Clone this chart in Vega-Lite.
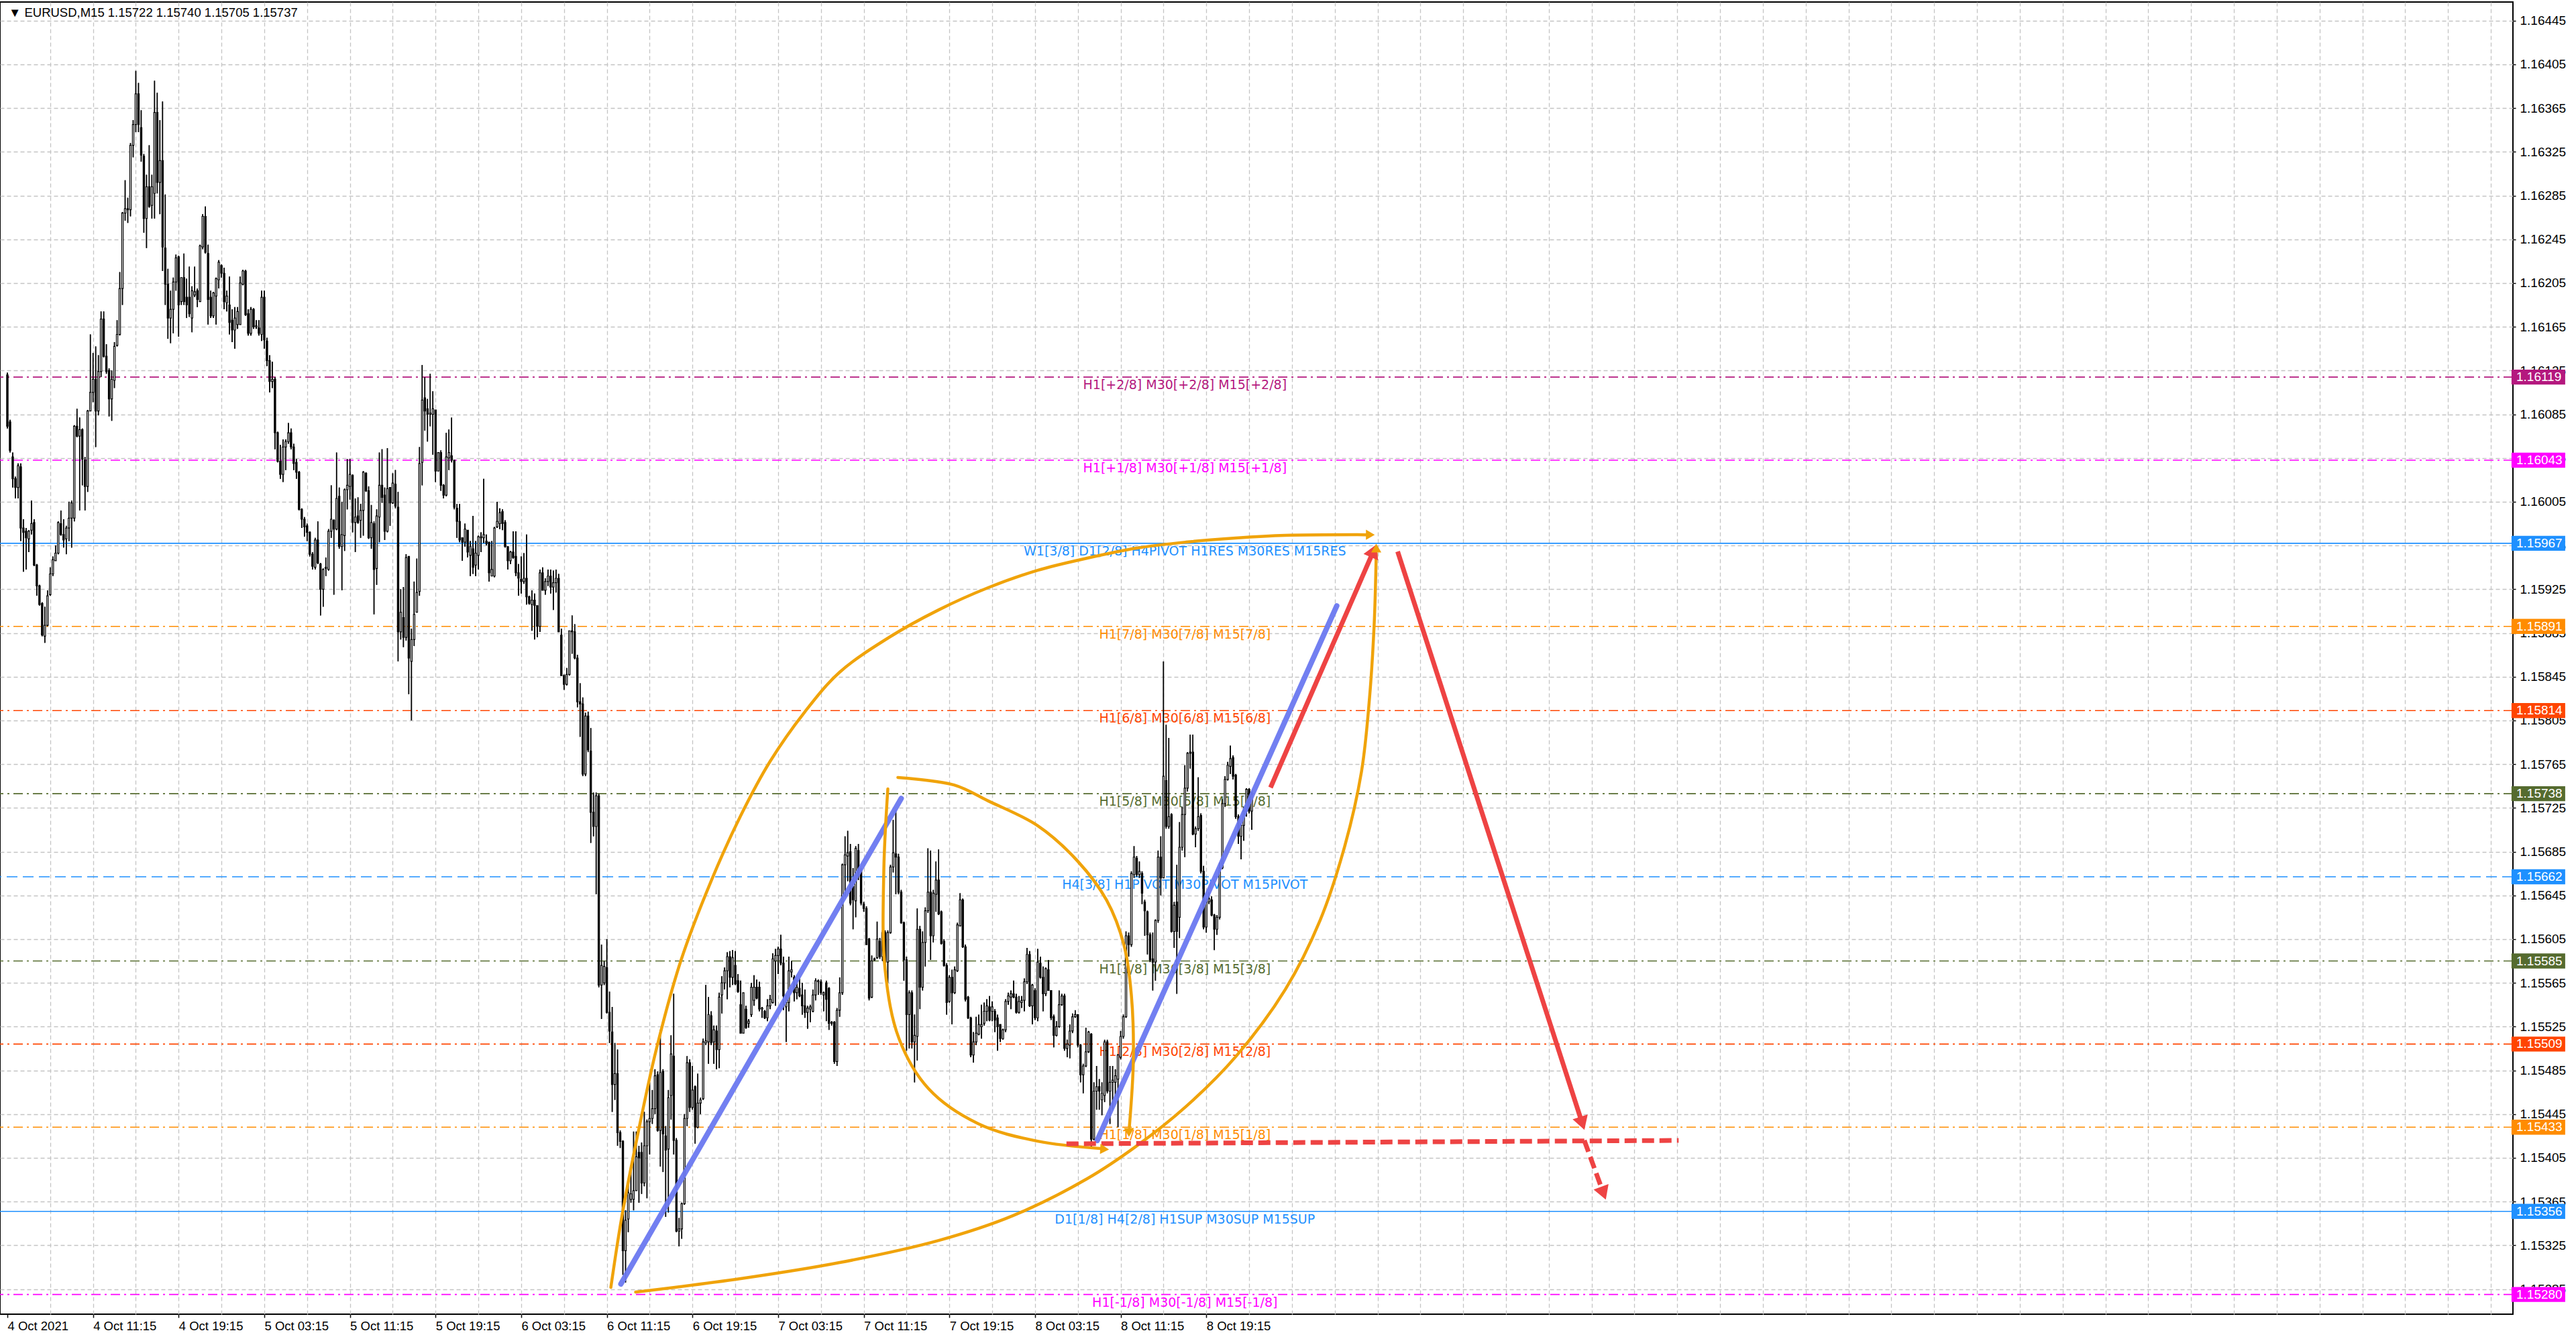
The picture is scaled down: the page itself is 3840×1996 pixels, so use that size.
{
"$schema": "https://vega.github.io/schema/vega-lite/v6.json",
"width": 3746, "height": 1956,
"autosize": "none",
"padding": {"left": 0, "top": 3, "right": 94, "bottom": 37},
"background": "white",
"config": {"view": {"stroke": "#000000", "strokeWidth": 2}},
"datasets": {
"candles": [
{"i":0,"o":1.16121,"h":1.16123,"l":1.16072,"c":1.16074},
{"i":1,"o":1.16078,"h":1.16080,"l":1.16050,"c":1.16052},
{"i":2,"o":1.16046,"h":1.16050,"l":1.16018,"c":1.16026},
{"i":3,"o":1.16026,"h":1.16028,"l":1.16008,"c":1.16018},
{"i":4,"o":1.16018,"h":1.16040,"l":1.16008,"c":1.16038},
{"i":5,"o":1.16037,"h":1.16040,"l":1.15969,"c":1.15981},
{"i":6,"o":1.15981,"h":1.15989,"l":1.15941,"c":1.15977},
{"i":7,"o":1.15978,"h":1.15981,"l":1.15943,"c":1.15972},
{"i":8,"o":1.15971,"h":1.15979,"l":1.15959,"c":1.15978},
{"i":9,"o":1.15979,"h":1.16006,"l":1.15975,"c":1.15985},
{"i":10,"o":1.15986,"h":1.15989,"l":1.15946,"c":1.15947},
{"i":11,"o":1.15947,"h":1.15948,"l":1.15919,"c":1.15928},
{"i":12,"o":1.15928,"h":1.15929,"l":1.15910,"c":1.15911},
{"i":13,"o":1.15912,"h":1.15913,"l":1.15882,"c":1.15883},
{"i":14,"o":1.15882,"h":1.15909,"l":1.15876,"c":1.15892},
{"i":15,"o":1.15892,"h":1.15924,"l":1.15891,"c":1.15919},
{"i":16,"o":1.15920,"h":1.15945,"l":1.15919,"c":1.15939},
{"i":17,"o":1.15939,"h":1.15955,"l":1.15937,"c":1.15952},
{"i":18,"o":1.15951,"h":1.15965,"l":1.15951,"c":1.15958},
{"i":19,"o":1.15958,"h":1.15987,"l":1.15957,"c":1.15986},
{"i":20,"o":1.15985,"h":1.15997,"l":1.15974,"c":1.15975},
{"i":21,"o":1.15975,"h":1.15989,"l":1.15963,"c":1.15970},
{"i":22,"o":1.15971,"h":1.15983,"l":1.15957,"c":1.15981},
{"i":23,"o":1.15981,"h":1.16005,"l":1.15969,"c":1.15990},
{"i":24,"o":1.15990,"h":1.16006,"l":1.15963,"c":1.16004},
{"i":25,"o":1.15990,"h":1.16075,"l":1.15987,"c":1.16074},
{"i":26,"o":1.16074,"h":1.16090,"l":1.16064,"c":1.16065},
{"i":27,"o":1.16065,"h":1.16082,"l":1.15997,"c":1.16071},
{"i":28,"o":1.16071,"h":1.16072,"l":1.16020,"c":1.16044},
{"i":29,"o":1.16043,"h":1.16046,"l":1.15997,"c":1.16019},
{"i":30,"o":1.16019,"h":1.16089,"l":1.16014,"c":1.16088},
{"i":31,"o":1.16088,"h":1.16158,"l":1.16088,"c":1.16105},
{"i":32,"o":1.16105,"h":1.16141,"l":1.16096,"c":1.16117},
{"i":33,"o":1.16117,"h":1.16147,"l":1.16055,"c":1.16088},
{"i":34,"o":1.16088,"h":1.16139,"l":1.16084,"c":1.16124},
{"i":35,"o":1.16124,"h":1.16179,"l":1.16119,"c":1.16172},
{"i":36,"o":1.16172,"h":1.16179,"l":1.16137,"c":1.16138},
{"i":37,"o":1.16138,"h":1.16149,"l":1.16122,"c":1.16124},
{"i":38,"o":1.16125,"h":1.16127,"l":1.16083,"c":1.16099},
{"i":39,"o":1.16099,"h":1.16125,"l":1.16079,"c":1.16117},
{"i":40,"o":1.16116,"h":1.16151,"l":1.16109,"c":1.16147},
{"i":41,"o":1.16148,"h":1.16171,"l":1.16147,"c":1.16158},
{"i":42,"o":1.16158,"h":1.16215,"l":1.16157,"c":1.16200},
{"i":43,"o":1.16200,"h":1.16270,"l":1.16185,"c":1.16269},
{"i":44,"o":1.16269,"h":1.16299,"l":1.16262,"c":1.16273},
{"i":45,"o":1.16273,"h":1.16283,"l":1.16260,"c":1.16272},
{"i":46,"o":1.16272,"h":1.16333,"l":1.16266,"c":1.16331},
{"i":47,"o":1.16331,"h":1.16354,"l":1.16320,"c":1.16350},
{"i":48,"o":1.16350,"h":1.16399,"l":1.16343,"c":1.16378},
{"i":49,"o":1.16378,"h":1.16388,"l":1.16343,"c":1.16350},
{"i":50,"o":1.16347,"h":1.16363,"l":1.16316,"c":1.16322},
{"i":51,"o":1.16321,"h":1.16323,"l":1.16251,"c":1.16264},
{"i":52,"o":1.16264,"h":1.16304,"l":1.16237,"c":1.16293},
{"i":53,"o":1.16293,"h":1.16331,"l":1.16274,"c":1.16275},
{"i":54,"o":1.16276,"h":1.16304,"l":1.16264,"c":1.16293},
{"i":55,"o":1.16287,"h":1.16390,"l":1.16264,"c":1.16361},
{"i":56,"o":1.16361,"h":1.16379,"l":1.16287,"c":1.16297},
{"i":57,"o":1.16297,"h":1.16354,"l":1.16268,"c":1.16317},
{"i":58,"o":1.16317,"h":1.16371,"l":1.16216,"c":1.16238},
{"i":59,"o":1.16237,"h":1.16286,"l":1.16185,"c":1.16204},
{"i":60,"o":1.16204,"h":1.16218,"l":1.16154,"c":1.16173},
{"i":61,"o":1.16173,"h":1.16198,"l":1.16150,"c":1.16181},
{"i":62,"o":1.16181,"h":1.16210,"l":1.16159,"c":1.16206},
{"i":63,"o":1.16206,"h":1.16231,"l":1.16198,"c":1.16228},
{"i":64,"o":1.16229,"h":1.16230,"l":1.16156,"c":1.16185},
{"i":65,"o":1.16188,"h":1.16210,"l":1.16185,"c":1.16210},
{"i":66,"o":1.16210,"h":1.16232,"l":1.16185,"c":1.16188},
{"i":67,"o":1.16192,"h":1.16209,"l":1.16173,"c":1.16185},
{"i":68,"o":1.16192,"h":1.16220,"l":1.16174,"c":1.16177},
{"i":69,"o":1.16173,"h":1.16202,"l":1.16160,"c":1.16198},
{"i":70,"o":1.16194,"h":1.16220,"l":1.16192,"c":1.16197},
{"i":71,"o":1.16198,"h":1.16200,"l":1.16183,"c":1.16190},
{"i":72,"o":1.16188,"h":1.16240,"l":1.16188,"c":1.16239},
{"i":73,"o":1.16238,"h":1.16268,"l":1.16236,"c":1.16266},
{"i":74,"o":1.16266,"h":1.16275,"l":1.16232,"c":1.16233},
{"i":75,"o":1.16232,"h":1.16240,"l":1.16167,"c":1.16190},
{"i":76,"o":1.16192,"h":1.16198,"l":1.16173,"c":1.16175},
{"i":77,"o":1.16175,"h":1.16197,"l":1.16173,"c":1.16196},
{"i":78,"o":1.16193,"h":1.16210,"l":1.16167,"c":1.16209},
{"i":79,"o":1.16208,"h":1.16226,"l":1.16200,"c":1.16224},
{"i":80,"o":1.16221,"h":1.16222,"l":1.16210,"c":1.16214},
{"i":81,"o":1.16214,"h":1.16219,"l":1.16181,"c":1.16188},
{"i":82,"o":1.16187,"h":1.16198,"l":1.16179,"c":1.16193},
{"i":83,"o":1.16185,"h":1.16211,"l":1.16158,"c":1.16169},
{"i":84,"o":1.16171,"h":1.16181,"l":1.16151,"c":1.16162},
{"i":85,"o":1.16162,"h":1.16183,"l":1.16145,"c":1.16173},
{"i":86,"o":1.16167,"h":1.16183,"l":1.16163,"c":1.16179},
{"i":87,"o":1.16167,"h":1.16211,"l":1.16167,"c":1.16205},
{"i":88,"o":1.16204,"h":1.16217,"l":1.16203,"c":1.16216},
{"i":89,"o":1.16216,"h":1.16217,"l":1.16175,"c":1.16176},
{"i":90,"o":1.16177,"h":1.16181,"l":1.16157,"c":1.16159},
{"i":91,"o":1.16159,"h":1.16183,"l":1.16157,"c":1.16181},
{"i":92,"o":1.16181,"h":1.16182,"l":1.16163,"c":1.16165},
{"i":93,"o":1.16165,"h":1.16171,"l":1.16163,"c":1.16166},
{"i":94,"o":1.16164,"h":1.16171,"l":1.16157,"c":1.16159},
{"i":95,"o":1.16158,"h":1.16198,"l":1.16152,"c":1.16192},
{"i":96,"o":1.16192,"h":1.16198,"l":1.16145,"c":1.16153},
{"i":97,"o":1.16152,"h":1.16155,"l":1.16129,"c":1.16134},
{"i":98,"o":1.16134,"h":1.16139,"l":1.16105,"c":1.16115},
{"i":99,"o":1.16115,"h":1.16133,"l":1.16109,"c":1.16117},
{"i":100,"o":1.16117,"h":1.16119,"l":1.16053,"c":1.16068},
{"i":101,"o":1.16068,"h":1.16069,"l":1.16041,"c":1.16042},
{"i":102,"o":1.16042,"h":1.16057,"l":1.16026,"c":1.16030},
{"i":103,"o":1.16030,"h":1.16062,"l":1.16023,"c":1.16055},
{"i":104,"o":1.16055,"h":1.16062,"l":1.16034,"c":1.16060},
{"i":105,"o":1.16060,"h":1.16077,"l":1.16058,"c":1.16068},
{"i":106,"o":1.16068,"h":1.16072,"l":1.16053,"c":1.16055},
{"i":107,"o":1.16055,"h":1.16058,"l":1.16034,"c":1.16040},
{"i":108,"o":1.16041,"h":1.16044,"l":1.16026,"c":1.16032},
{"i":109,"o":1.16032,"h":1.16033,"l":1.15997,"c":1.15998},
{"i":110,"o":1.15998,"h":1.15999,"l":1.15981,"c":1.15989},
{"i":111,"o":1.15989,"h":1.15991,"l":1.15973,"c":1.15982},
{"i":112,"o":1.15983,"h":1.15985,"l":1.15969,"c":1.15977},
{"i":113,"o":1.15977,"h":1.15978,"l":1.15955,"c":1.15957},
{"i":114,"o":1.15957,"h":1.15959,"l":1.15943,"c":1.15946},
{"i":115,"o":1.15945,"h":1.15972,"l":1.15943,"c":1.15970},
{"i":116,"o":1.15970,"h":1.15987,"l":1.15948,"c":1.15949},
{"i":117,"o":1.15948,"h":1.15949,"l":1.15901,"c":1.15925},
{"i":118,"o":1.15925,"h":1.15944,"l":1.15909,"c":1.15943},
{"i":119,"o":1.15944,"h":1.15954,"l":1.15937,"c":1.15945},
{"i":120,"o":1.15943,"h":1.15980,"l":1.15942,"c":1.15978},
{"i":121,"o":1.15978,"h":1.16020,"l":1.15972,"c":1.15989},
{"i":122,"o":1.15988,"h":1.15989,"l":1.15920,"c":1.15980},
{"i":123,"o":1.15980,"h":1.16050,"l":1.15979,"c":1.16008},
{"i":124,"o":1.16010,"h":1.16018,"l":1.15962,"c":1.15964},
{"i":125,"o":1.15964,"h":1.16005,"l":1.15924,"c":1.15975},
{"i":126,"o":1.15974,"h":1.16017,"l":1.15960,"c":1.16016},
{"i":127,"o":1.16016,"h":1.16044,"l":1.15998,"c":1.16020},
{"i":128,"o":1.16019,"h":1.16044,"l":1.16007,"c":1.16030},
{"i":129,"o":1.16029,"h":1.16030,"l":1.15977,"c":1.15986},
{"i":130,"o":1.15986,"h":1.16008,"l":1.15959,"c":1.15991},
{"i":131,"o":1.15992,"h":1.16009,"l":1.15985,"c":1.15986},
{"i":132,"o":1.15988,"h":1.16003,"l":1.15972,"c":1.15997},
{"i":133,"o":1.15997,"h":1.16033,"l":1.15974,"c":1.16032},
{"i":134,"o":1.16031,"h":1.16032,"l":1.16014,"c":1.16015},
{"i":135,"o":1.16015,"h":1.16019,"l":1.15971,"c":1.15972},
{"i":136,"o":1.15972,"h":1.16002,"l":1.15962,"c":1.15986},
{"i":137,"o":1.15985,"h":1.15987,"l":1.15902,"c":1.15943},
{"i":138,"o":1.15944,"h":1.15998,"l":1.15929,"c":1.15992},
{"i":139,"o":1.15991,"h":1.16050,"l":1.15968,"c":1.16020},
{"i":140,"o":1.16020,"h":1.16053,"l":1.16004,"c":1.16009},
{"i":141,"o":1.16011,"h":1.16018,"l":1.15970,"c":1.15978},
{"i":142,"o":1.15978,"h":1.16054,"l":1.15977,"c":1.16017},
{"i":143,"o":1.16018,"h":1.16018,"l":1.15983,"c":1.16004},
{"i":144,"o":1.16004,"h":1.16031,"l":1.16003,"c":1.16022},
{"i":145,"o":1.16021,"h":1.16034,"l":1.15999,"c":1.16001},
{"i":146,"o":1.16000,"h":1.16014,"l":1.15859,"c":1.15886},
{"i":147,"o":1.15886,"h":1.15925,"l":1.15879,"c":1.15904},
{"i":148,"o":1.15899,"h":1.15927,"l":1.15872,"c":1.15881},
{"i":149,"o":1.15881,"h":1.15957,"l":1.15878,"c":1.15954},
{"i":150,"o":1.15955,"h":1.15955,"l":1.15829,"c":1.15862},
{"i":151,"o":1.15859,"h":1.15889,"l":1.15805,"c":1.15879},
{"i":152,"o":1.15879,"h":1.15932,"l":1.15873,"c":1.15902},
{"i":153,"o":1.15904,"h":1.15953,"l":1.15904,"c":1.15922},
{"i":154,"o":1.15923,"h":1.16055,"l":1.15919,"c":1.16040},
{"i":155,"o":1.16041,"h":1.16130,"l":1.16020,"c":1.16098},
{"i":156,"o":1.16100,"h":1.16119,"l":1.16070,"c":1.16088},
{"i":157,"o":1.16090,"h":1.16099,"l":1.16060,"c":1.16085},
{"i":158,"o":1.16085,"h":1.16122,"l":1.16074,"c":1.16086},
{"i":159,"o":1.16085,"h":1.16106,"l":1.16048,"c":1.16090},
{"i":160,"o":1.16089,"h":1.16089,"l":1.16023,"c":1.16033},
{"i":161,"o":1.16033,"h":1.16050,"l":1.16033,"c":1.16050},
{"i":162,"o":1.16050,"h":1.16052,"l":1.16015,"c":1.16020},
{"i":163,"o":1.16020,"h":1.16021,"l":1.16008,"c":1.16011},
{"i":164,"o":1.16011,"h":1.16068,"l":1.16010,"c":1.16046},
{"i":165,"o":1.16045,"h":1.16071,"l":1.16034,"c":1.16050},
{"i":166,"o":1.16047,"h":1.16082,"l":1.16041,"c":1.16043},
{"i":167,"o":1.16043,"h":1.16043,"l":1.15998,"c":1.16000},
{"i":168,"o":1.15999,"h":1.16003,"l":1.15972,"c":1.15987},
{"i":169,"o":1.15987,"h":1.16003,"l":1.15968,"c":1.15970},
{"i":170,"o":1.15972,"h":1.15972,"l":1.15951,"c":1.15968},
{"i":171,"o":1.15968,"h":1.15985,"l":1.15964,"c":1.15980},
{"i":172,"o":1.15979,"h":1.15979,"l":1.15954,"c":1.15959},
{"i":173,"o":1.15956,"h":1.15969,"l":1.15937,"c":1.15964},
{"i":174,"o":1.15962,"h":1.15992,"l":1.15939,"c":1.15945},
{"i":175,"o":1.15947,"h":1.15969,"l":1.15937,"c":1.15958},
{"i":176,"o":1.15956,"h":1.15974,"l":1.15943,"c":1.15973},
{"i":177,"o":1.15972,"h":1.15977,"l":1.15959,"c":1.15973},
{"i":178,"o":1.15972,"h":1.16026,"l":1.15967,"c":1.15975},
{"i":179,"o":1.15969,"h":1.15975,"l":1.15965,"c":1.15967},
{"i":180,"o":1.15968,"h":1.15968,"l":1.15932,"c":1.15940},
{"i":181,"o":1.15937,"h":1.15969,"l":1.15937,"c":1.15943},
{"i":182,"o":1.15937,"h":1.15982,"l":1.15936,"c":1.15981},
{"i":183,"o":1.15982,"h":1.16005,"l":1.15981,"c":1.15987},
{"i":184,"o":1.15985,"h":1.15999,"l":1.15980,"c":1.15995},
{"i":185,"o":1.15996,"h":1.15998,"l":1.15979,"c":1.15985},
{"i":186,"o":1.15986,"h":1.15988,"l":1.15963,"c":1.15964},
{"i":187,"o":1.15964,"h":1.15964,"l":1.15943,"c":1.15951},
{"i":188,"o":1.15951,"h":1.15960,"l":1.15948,"c":1.15959},
{"i":189,"o":1.15959,"h":1.15978,"l":1.15953,"c":1.15954},
{"i":190,"o":1.15955,"h":1.15978,"l":1.15937,"c":1.15940},
{"i":191,"o":1.15940,"h":1.15948,"l":1.15919,"c":1.15935},
{"i":192,"o":1.15934,"h":1.15955,"l":1.15921,"c":1.15932},
{"i":193,"o":1.15932,"h":1.15958,"l":1.15930,"c":1.15935},
{"i":194,"o":1.15935,"h":1.15975,"l":1.15911,"c":1.15918},
{"i":195,"o":1.15918,"h":1.15919,"l":1.15911,"c":1.15912},
{"i":196,"o":1.15911,"h":1.15924,"l":1.15887,"c":1.15915},
{"i":197,"o":1.15915,"h":1.15921,"l":1.15879,"c":1.15910},
{"i":198,"o":1.15910,"h":1.15910,"l":1.15881,"c":1.15891},
{"i":199,"o":1.15891,"h":1.15943,"l":1.15886,"c":1.15940},
{"i":200,"o":1.15940,"h":1.15945,"l":1.15924,"c":1.15924},
{"i":201,"o":1.15924,"h":1.15935,"l":1.15920,"c":1.15932},
{"i":202,"o":1.15932,"h":1.15943,"l":1.15928,"c":1.15937},
{"i":203,"o":1.15937,"h":1.15943,"l":1.15921,"c":1.15927},
{"i":204,"o":1.15927,"h":1.15942,"l":1.15906,"c":1.15931},
{"i":205,"o":1.15931,"h":1.15943,"l":1.15922,"c":1.15935},
{"i":206,"o":1.15935,"h":1.15939,"l":1.15886,"c":1.15886},
{"i":207,"o":1.15883,"h":1.15889,"l":1.15846,"c":1.15846},
{"i":208,"o":1.15846,"h":1.15847,"l":1.15833,"c":1.15838},
{"i":209,"o":1.15838,"h":1.15853,"l":1.15837,"c":1.15847},
{"i":210,"o":1.15847,"h":1.15887,"l":1.15846,"c":1.15887},
{"i":211,"o":1.15887,"h":1.15901,"l":1.15866,"c":1.15886},
{"i":212,"o":1.15886,"h":1.15893,"l":1.15861,"c":1.15862},
{"i":213,"o":1.15862,"h":1.15865,"l":1.15817,"c":1.15822},
{"i":214,"o":1.15822,"h":1.15839,"l":1.15790,"c":1.15820},
{"i":215,"o":1.15820,"h":1.15826,"l":1.15754,"c":1.15756},
{"i":216,"o":1.15756,"h":1.15812,"l":1.15754,"c":1.15809},
{"i":217,"o":1.15809,"h":1.15813,"l":1.15776,"c":1.15778},
{"i":218,"o":1.15777,"h":1.15798,"l":1.15693,"c":1.15721},
{"i":219,"o":1.15721,"h":1.15739,"l":1.15699,"c":1.15708},
{"i":220,"o":1.15708,"h":1.15739,"l":1.15646,"c":1.15736},
{"i":221,"o":1.15736,"h":1.15738,"l":1.15561,"c":1.15563},
{"i":222,"o":1.15563,"h":1.15600,"l":1.15532,"c":1.15581},
{"i":223,"o":1.15565,"h":1.15585,"l":1.15563,"c":1.15580},
{"i":224,"o":1.15579,"h":1.15605,"l":1.15537,"c":1.15538},
{"i":225,"o":1.15538,"h":1.15557,"l":1.15510,"c":1.15521},
{"i":226,"o":1.15520,"h":1.15543,"l":1.15447,"c":1.15472},
{"i":227,"o":1.15472,"h":1.15510,"l":1.15458,"c":1.15482},
{"i":228,"o":1.15482,"h":1.15504,"l":1.15416,"c":1.15428},
{"i":229,"o":1.15428,"h":1.15430,"l":1.15414,"c":1.15420},
{"i":230,"o":1.15420,"h":1.15421,"l":1.15298,"c":1.15320},
{"i":231,"o":1.15320,"h":1.15357,"l":1.15291,"c":1.15348},
{"i":232,"o":1.15349,"h":1.15382,"l":1.15337,"c":1.15373},
{"i":233,"o":1.15367,"h":1.15396,"l":1.15364,"c":1.15372},
{"i":234,"o":1.15367,"h":1.15429,"l":1.15357,"c":1.15375},
{"i":235,"o":1.15375,"h":1.15429,"l":1.15375,"c":1.15406},
{"i":236,"o":1.15410,"h":1.15416,"l":1.15364,"c":1.15405},
{"i":237,"o":1.15410,"h":1.15419,"l":1.15372,"c":1.15382},
{"i":238,"o":1.15382,"h":1.15447,"l":1.15379,"c":1.15416},
{"i":239,"o":1.15416,"h":1.15440,"l":1.15368,"c":1.15438},
{"i":240,"o":1.15438,"h":1.15474,"l":1.15408,"c":1.15441},
{"i":241,"o":1.15441,"h":1.15467,"l":1.15436,"c":1.15450},
{"i":242,"o":1.15450,"h":1.15486,"l":1.15445,"c":1.15480},
{"i":243,"o":1.15481,"h":1.15484,"l":1.15429,"c":1.15430},
{"i":244,"o":1.15430,"h":1.15522,"l":1.15397,"c":1.15483},
{"i":245,"o":1.15484,"h":1.15486,"l":1.15392,"c":1.15427},
{"i":246,"o":1.15425,"h":1.15434,"l":1.15351,"c":1.15412},
{"i":247,"o":1.15413,"h":1.15467,"l":1.15355,"c":1.15460},
{"i":248,"o":1.15462,"h":1.15517,"l":1.15440,"c":1.15500},
{"i":249,"o":1.15498,"h":1.15555,"l":1.15408,"c":1.15421},
{"i":250,"o":1.15421,"h":1.15423,"l":1.15337,"c":1.15338},
{"i":251,"o":1.15338,"h":1.15350,"l":1.15324,"c":1.15340},
{"i":252,"o":1.15340,"h":1.15364,"l":1.15331,"c":1.15363},
{"i":253,"o":1.15363,"h":1.15445,"l":1.15362,"c":1.15441},
{"i":254,"o":1.15441,"h":1.15498,"l":1.15434,"c":1.15492},
{"i":255,"o":1.15492,"h":1.15495,"l":1.15447,"c":1.15451},
{"i":256,"o":1.15451,"h":1.15489,"l":1.15449,"c":1.15467},
{"i":257,"o":1.15470,"h":1.15471,"l":1.15418,"c":1.15433},
{"i":258,"o":1.15433,"h":1.15482,"l":1.15432,"c":1.15455},
{"i":259,"o":1.15455,"h":1.15460,"l":1.15445,"c":1.15458},
{"i":260,"o":1.15459,"h":1.15514,"l":1.15458,"c":1.15511},
{"i":261,"o":1.15510,"h":1.15563,"l":1.15508,"c":1.15512},
{"i":262,"o":1.15511,"h":1.15552,"l":1.15491,"c":1.15536},
{"i":263,"o":1.15535,"h":1.15539,"l":1.15508,"c":1.15510},
{"i":264,"o":1.15511,"h":1.15526,"l":1.15491,"c":1.15522},
{"i":265,"o":1.15521,"h":1.15526,"l":1.15486,"c":1.15504},
{"i":266,"o":1.15504,"h":1.15556,"l":1.15487,"c":1.15552},
{"i":267,"o":1.15554,"h":1.15571,"l":1.15537,"c":1.15565},
{"i":268,"o":1.15565,"h":1.15579,"l":1.15559,"c":1.15576},
{"i":269,"o":1.15576,"h":1.15593,"l":1.15550,"c":1.15589},
{"i":270,"o":1.15589,"h":1.15594,"l":1.15561,"c":1.15570},
{"i":271,"o":1.15570,"h":1.15595,"l":1.15563,"c":1.15588},
{"i":272,"o":1.15581,"h":1.15594,"l":1.15563,"c":1.15564},
{"i":273,"o":1.15567,"h":1.15573,"l":1.15556,"c":1.15557},
{"i":274,"o":1.15545,"h":1.15567,"l":1.15519,"c":1.15519},
{"i":275,"o":1.15519,"h":1.15556,"l":1.15519,"c":1.15556},
{"i":276,"o":1.15541,"h":1.15544,"l":1.15523,"c":1.15524},
{"i":277,"o":1.15528,"h":1.15532,"l":1.15524,"c":1.15530},
{"i":278,"o":1.15536,"h":1.15565,"l":1.15534,"c":1.15561},
{"i":279,"o":1.15549,"h":1.15572,"l":1.15544,"c":1.15561},
{"i":280,"o":1.15561,"h":1.15568,"l":1.15550,"c":1.15551},
{"i":281,"o":1.15561,"h":1.15566,"l":1.15539,"c":1.15541},
{"i":282,"o":1.15541,"h":1.15543,"l":1.15533,"c":1.15542},
{"i":283,"o":1.15539,"h":1.15540,"l":1.15532,"c":1.15533},
{"i":284,"o":1.15533,"h":1.15550,"l":1.15530,"c":1.15544},
{"i":285,"o":1.15544,"h":1.15554,"l":1.15541,"c":1.15550},
{"i":286,"o":1.15547,"h":1.15592,"l":1.15546,"c":1.15587},
{"i":287,"o":1.15585,"h":1.15596,"l":1.15544,"c":1.15590},
{"i":288,"o":1.15590,"h":1.15598,"l":1.15573,"c":1.15596},
{"i":289,"o":1.15596,"h":1.15609,"l":1.15581,"c":1.15583},
{"i":290,"o":1.15583,"h":1.15589,"l":1.15540,"c":1.15553},
{"i":291,"o":1.15543,"h":1.15554,"l":1.15511,"c":1.15547},
{"i":292,"o":1.15547,"h":1.15589,"l":1.15539,"c":1.15576},
{"i":293,"o":1.15575,"h":1.15585,"l":1.15570,"c":1.15577},
{"i":294,"o":1.15570,"h":1.15572,"l":1.15548,"c":1.15556},
{"i":295,"o":1.15556,"h":1.15568,"l":1.15550,"c":1.15561},
{"i":296,"o":1.15560,"h":1.15569,"l":1.15552,"c":1.15553},
{"i":297,"o":1.15554,"h":1.15565,"l":1.15536,"c":1.15544},
{"i":298,"o":1.15544,"h":1.15559,"l":1.15533,"c":1.15538},
{"i":299,"o":1.15538,"h":1.15544,"l":1.15523,"c":1.15542},
{"i":300,"o":1.15541,"h":1.15545,"l":1.15529,"c":1.15543},
{"i":301,"o":1.15539,"h":1.15559,"l":1.15538,"c":1.15554},
{"i":302,"o":1.15554,"h":1.15569,"l":1.15549,"c":1.15567},
{"i":303,"o":1.15566,"h":1.15568,"l":1.15554,"c":1.15567},
{"i":304,"o":1.15566,"h":1.15568,"l":1.15554,"c":1.15556},
{"i":305,"o":1.15554,"h":1.15557,"l":1.15539,"c":1.15556},
{"i":306,"o":1.15565,"h":1.15567,"l":1.15530,"c":1.15550},
{"i":307,"o":1.15560,"h":1.15561,"l":1.15522,"c":1.15528},
{"i":308,"o":1.15529,"h":1.15530,"l":1.15526,"c":1.15528},
{"i":309,"o":1.15529,"h":1.15530,"l":1.15491,"c":1.15493},
{"i":310,"o":1.15493,"h":1.15542,"l":1.15489,"c":1.15540},
{"i":311,"o":1.15540,"h":1.15570,"l":1.15534,"c":1.15556},
{"i":312,"o":1.15556,"h":1.15674,"l":1.15554,"c":1.15673},
{"i":313,"o":1.15673,"h":1.15699,"l":1.15644,"c":1.15682},
{"i":314,"o":1.15681,"h":1.15704,"l":1.15658,"c":1.15684},
{"i":315,"o":1.15685,"h":1.15692,"l":1.15636,"c":1.15638},
{"i":316,"o":1.15653,"h":1.15670,"l":1.15614,"c":1.15641},
{"i":317,"o":1.15640,"h":1.15690,"l":1.15625,"c":1.15688},
{"i":318,"o":1.15686,"h":1.15692,"l":1.15659,"c":1.15662},
{"i":319,"o":1.15668,"h":1.15670,"l":1.15636,"c":1.15638},
{"i":320,"o":1.15637,"h":1.15639,"l":1.15630,"c":1.15633},
{"i":321,"o":1.15633,"h":1.15635,"l":1.15600,"c":1.15600},
{"i":322,"o":1.15605,"h":1.15606,"l":1.15549,"c":1.15551},
{"i":323,"o":1.15552,"h":1.15590,"l":1.15551,"c":1.15585},
{"i":324,"o":1.15586,"h":1.15588,"l":1.15585,"c":1.15587},
{"i":325,"o":1.15588,"h":1.15621,"l":1.15587,"c":1.15605},
{"i":326,"o":1.15603,"h":1.15606,"l":1.15587,"c":1.15589},
{"i":327,"o":1.15589,"h":1.15613,"l":1.15585,"c":1.15611},
{"i":328,"o":1.15611,"h":1.15613,"l":1.15583,"c":1.15584},
{"i":329,"o":1.15584,"h":1.15613,"l":1.15565,"c":1.15611},
{"i":330,"o":1.15611,"h":1.15673,"l":1.15610,"c":1.15671},
{"i":331,"o":1.15671,"h":1.15714,"l":1.15666,"c":1.15684},
{"i":332,"o":1.15683,"h":1.15723,"l":1.15646,"c":1.15680},
{"i":333,"o":1.15680,"h":1.15683,"l":1.15646,"c":1.15648},
{"i":334,"o":1.15648,"h":1.15650,"l":1.15619,"c":1.15620},
{"i":335,"o":1.15620,"h":1.15621,"l":1.15567,"c":1.15586},
{"i":336,"o":1.15586,"h":1.15589,"l":1.15503,"c":1.15536},
{"i":337,"o":1.15536,"h":1.15558,"l":1.15505,"c":1.15556},
{"i":338,"o":1.15556,"h":1.15558,"l":1.15505,"c":1.15511},
{"i":339,"o":1.15511,"h":1.15536,"l":1.15474,"c":1.15517},
{"i":340,"o":1.15516,"h":1.15633,"l":1.15494,"c":1.15614},
{"i":341,"o":1.15614,"h":1.15617,"l":1.15541,"c":1.15561},
{"i":342,"o":1.15561,"h":1.15612,"l":1.15558,"c":1.15602},
{"i":343,"o":1.15602,"h":1.15634,"l":1.15580,"c":1.15631},
{"i":344,"o":1.15631,"h":1.15688,"l":1.15629,"c":1.15648},
{"i":345,"o":1.15648,"h":1.15686,"l":1.15586,"c":1.15608},
{"i":346,"o":1.15608,"h":1.15650,"l":1.15602,"c":1.15647},
{"i":347,"o":1.15646,"h":1.15676,"l":1.15630,"c":1.15659},
{"i":348,"o":1.15659,"h":1.15687,"l":1.15627,"c":1.15628},
{"i":349,"o":1.15630,"h":1.15631,"l":1.15600,"c":1.15601},
{"i":350,"o":1.15603,"h":1.15605,"l":1.15580,"c":1.15581},
{"i":351,"o":1.15581,"h":1.15583,"l":1.15536,"c":1.15547},
{"i":352,"o":1.15548,"h":1.15572,"l":1.15547,"c":1.15570},
{"i":353,"o":1.15570,"h":1.15577,"l":1.15527,"c":1.15556},
{"i":354,"o":1.15556,"h":1.15580,"l":1.15555,"c":1.15577},
{"i":355,"o":1.15576,"h":1.15620,"l":1.15575,"c":1.15618},
{"i":356,"o":1.15617,"h":1.15647,"l":1.15617,"c":1.15641},
{"i":357,"o":1.15641,"h":1.15642,"l":1.15597,"c":1.15598},
{"i":358,"o":1.15598,"h":1.15600,"l":1.15548,"c":1.15550},
{"i":359,"o":1.15552,"h":1.15553,"l":1.15532,"c":1.15533},
{"i":360,"o":1.15533,"h":1.15534,"l":1.15497,"c":1.15499},
{"i":361,"o":1.15499,"h":1.15520,"l":1.15492,"c":1.15511},
{"i":362,"o":1.15511,"h":1.15534,"l":1.15508,"c":1.15519},
{"i":363,"o":1.15518,"h":1.15536,"l":1.15517,"c":1.15527},
{"i":364,"o":1.15525,"h":1.15545,"l":1.15514,"c":1.15527},
{"i":365,"o":1.15528,"h":1.15547,"l":1.15526,"c":1.15539},
{"i":366,"o":1.15539,"h":1.15550,"l":1.15530,"c":1.15544},
{"i":367,"o":1.15543,"h":1.15553,"l":1.15530,"c":1.15531},
{"i":368,"o":1.15539,"h":1.15548,"l":1.15530,"c":1.15543},
{"i":369,"o":1.15539,"h":1.15541,"l":1.15520,"c":1.15531},
{"i":370,"o":1.15533,"h":1.15536,"l":1.15503,"c":1.15525},
{"i":371,"o":1.15527,"h":1.15527,"l":1.15511,"c":1.15514},
{"i":372,"o":1.15514,"h":1.15523,"l":1.15513,"c":1.15522},
{"i":373,"o":1.15522,"h":1.15550,"l":1.15520,"c":1.15548},
{"i":374,"o":1.15548,"h":1.15556,"l":1.15545,"c":1.15553},
{"i":375,"o":1.15552,"h":1.15558,"l":1.15541,"c":1.15555},
{"i":376,"o":1.15555,"h":1.15567,"l":1.15551,"c":1.15552},
{"i":377,"o":1.15552,"h":1.15555,"l":1.15537,"c":1.15538},
{"i":378,"o":1.15538,"h":1.15553,"l":1.15537,"c":1.15548},
{"i":379,"o":1.15547,"h":1.15553,"l":1.15542,"c":1.15549},
{"i":380,"o":1.15549,"h":1.15569,"l":1.15539,"c":1.15566},
{"i":381,"o":1.15566,"h":1.15597,"l":1.15564,"c":1.15591},
{"i":382,"o":1.15591,"h":1.15594,"l":1.15543,"c":1.15544},
{"i":383,"o":1.15544,"h":1.15564,"l":1.15527,"c":1.15563},
{"i":384,"o":1.15558,"h":1.15560,"l":1.15531,"c":1.15533},
{"i":385,"o":1.15533,"h":1.15596,"l":1.15530,"c":1.15584},
{"i":386,"o":1.15583,"h":1.15589,"l":1.15569,"c":1.15570},
{"i":387,"o":1.15570,"h":1.15580,"l":1.15539,"c":1.15555},
{"i":388,"o":1.15555,"h":1.15579,"l":1.15553,"c":1.15578},
{"i":389,"o":1.15577,"h":1.15586,"l":1.15558,"c":1.15558},
{"i":390,"o":1.15558,"h":1.15558,"l":1.15531,"c":1.15533},
{"i":391,"o":1.15534,"h":1.15536,"l":1.15506,"c":1.15517},
{"i":392,"o":1.15517,"h":1.15530,"l":1.15516,"c":1.15525},
{"i":393,"o":1.15525,"h":1.15558,"l":1.15524,"c":1.15545},
{"i":394,"o":1.15545,"h":1.15555,"l":1.15544,"c":1.15553},
{"i":395,"o":1.15553,"h":1.15555,"l":1.15503,"c":1.15505},
{"i":396,"o":1.15505,"h":1.15513,"l":1.15497,"c":1.15509},
{"i":397,"o":1.15508,"h":1.15527,"l":1.15496,"c":1.15521},
{"i":398,"o":1.15521,"h":1.15537,"l":1.15519,"c":1.15534},
{"i":399,"o":1.15534,"h":1.15540,"l":1.15533,"c":1.15536},
{"i":400,"o":1.15536,"h":1.15536,"l":1.15506,"c":1.15508},
{"i":401,"o":1.15508,"h":1.15509,"l":1.15474,"c":1.15481},
{"i":402,"o":1.15481,"h":1.15491,"l":1.15464,"c":1.15489},
{"i":403,"o":1.15489,"h":1.15524,"l":1.15488,"c":1.15502},
{"i":404,"o":1.15502,"h":1.15521,"l":1.15501,"c":1.15520},
{"i":405,"o":1.15518,"h":1.15519,"l":1.15414,"c":1.15422},
{"i":406,"o":1.15422,"h":1.15474,"l":1.15421,"c":1.15466},
{"i":407,"o":1.15466,"h":1.15489,"l":1.15449,"c":1.15470},
{"i":408,"o":1.15470,"h":1.15477,"l":1.15449,"c":1.15466},
{"i":409,"o":1.15458,"h":1.15474,"l":1.15444,"c":1.15464},
{"i":410,"o":1.15462,"h":1.15513,"l":1.15456,"c":1.15511},
{"i":411,"o":1.15511,"h":1.15513,"l":1.15464,"c":1.15466},
{"i":412,"o":1.15466,"h":1.15489,"l":1.15436,"c":1.15474},
{"i":413,"o":1.15474,"h":1.15489,"l":1.15449,"c":1.15476},
{"i":414,"o":1.15474,"h":1.15486,"l":1.15461,"c":1.15480},
{"i":415,"o":1.15477,"h":1.15500,"l":1.15433,"c":1.15499},
{"i":416,"o":1.15497,"h":1.15521,"l":1.15495,"c":1.15516},
{"i":417,"o":1.15516,"h":1.15536,"l":1.15514,"c":1.15534},
{"i":418,"o":1.15534,"h":1.15612,"l":1.15533,"c":1.15608},
{"i":419,"o":1.15608,"h":1.15611,"l":1.15589,"c":1.15600},
{"i":420,"o":1.15600,"h":1.15667,"l":1.15598,"c":1.15665},
{"i":421,"o":1.15664,"h":1.15690,"l":1.15661,"c":1.15680},
{"i":422,"o":1.15679,"h":1.15681,"l":1.15662,"c":1.15664},
{"i":423,"o":1.15664,"h":1.15676,"l":1.15661,"c":1.15667},
{"i":424,"o":1.15665,"h":1.15667,"l":1.15637,"c":1.15647},
{"i":425,"o":1.15639,"h":1.15641,"l":1.15608,"c":1.15631},
{"i":426,"o":1.15630,"h":1.15631,"l":1.15591,"c":1.15609},
{"i":427,"o":1.15609,"h":1.15611,"l":1.15584,"c":1.15586},
{"i":428,"o":1.15587,"h":1.15611,"l":1.15558,"c":1.15584},
{"i":429,"o":1.15584,"h":1.15623,"l":1.15567,"c":1.15622},
{"i":430,"o":1.15622,"h":1.15686,"l":1.15620,"c":1.15680},
{"i":431,"o":1.15680,"h":1.15699,"l":1.15645,"c":1.15661},
{"i":432,"o":1.15661,"h":1.15859,"l":1.15661,"c":1.15754},
{"i":433,"o":1.15750,"h":1.15801,"l":1.15706,"c":1.15708},
{"i":434,"o":1.15708,"h":1.15789,"l":1.15706,"c":1.15717},
{"i":435,"o":1.15719,"h":1.15720,"l":1.15611,"c":1.15612},
{"i":436,"o":1.15612,"h":1.15639,"l":1.15597,"c":1.15636},
{"i":437,"o":1.15639,"h":1.15673,"l":1.15555,"c":1.15612},
{"i":438,"o":1.15625,"h":1.15712,"l":1.15606,"c":1.15689},
{"i":439,"o":1.15689,"h":1.15726,"l":1.15686,"c":1.15719},
{"i":440,"o":1.15719,"h":1.15764,"l":1.15680,"c":1.15743},
{"i":441,"o":1.15743,"h":1.15776,"l":1.15740,"c":1.15775},
{"i":442,"o":1.15775,"h":1.15792,"l":1.15761,"c":1.15776},
{"i":443,"o":1.15776,"h":1.15792,"l":1.15700,"c":1.15701},
{"i":444,"o":1.15701,"h":1.15708,"l":1.15689,"c":1.15706},
{"i":445,"o":1.15706,"h":1.15753,"l":1.15704,"c":1.15717},
{"i":446,"o":1.15718,"h":1.15720,"l":1.15665,"c":1.15667},
{"i":447,"o":1.15667,"h":1.15672,"l":1.15614,"c":1.15616},
{"i":448,"o":1.15616,"h":1.15642,"l":1.15611,"c":1.15639},
{"i":449,"o":1.15639,"h":1.15648,"l":1.15637,"c":1.15642},
{"i":450,"o":1.15641,"h":1.15644,"l":1.15626,"c":1.15627},
{"i":451,"o":1.15627,"h":1.15628,"l":1.15595,"c":1.15614},
{"i":452,"o":1.15614,"h":1.15627,"l":1.15609,"c":1.15625},
{"i":453,"o":1.15625,"h":1.15675,"l":1.15623,"c":1.15670},
{"i":454,"o":1.15670,"h":1.15733,"l":1.15669,"c":1.15729},
{"i":455,"o":1.15729,"h":1.15754,"l":1.15726,"c":1.15751},
{"i":456,"o":1.15751,"h":1.15767,"l":1.15750,"c":1.15764},
{"i":457,"o":1.15763,"h":1.15782,"l":1.15756,"c":1.15770},
{"i":458,"o":1.15771,"h":1.15773,"l":1.15751,"c":1.15754},
{"i":459,"o":1.15755,"h":1.15756,"l":1.15715,"c":1.15717},
{"i":460,"o":1.15717,"h":1.15719,"l":1.15692,"c":1.15699},
{"i":461,"o":1.15699,"h":1.15711,"l":1.15678,"c":1.15709},
{"i":462,"o":1.15709,"h":1.15726,"l":1.15695,"c":1.15722},
{"i":463,"o":1.15722,"h":1.15743,"l":1.15717,"c":1.15742},
{"i":464,"o":1.15742,"h":1.15743,"l":1.15720,"c":1.15722},
{"i":465,"o":1.15722,"h":1.15740,"l":1.15705,"c":1.15737}
],
"levels": [
{"p":1.16119,"t":"H1[+2/8] M30[+2/8] M15[+2/8]","lvl":"+2/8","ls":"dashdot"},
{"p":1.16043,"t":"H1[+1/8] M30[+1/8] M15[+1/8]","lvl":"+1/8","ls":"dashdot"},
{"p":1.15967,"t":"W1[3/8] D1[2/8] H4PIVOT H1RES M30RES M15RES","lvl":"RES","ls":"solid"},
{"p":1.15891,"t":"H1[7/8] M30[7/8] M15[7/8]","lvl":"7/8","ls":"dashdot"},
{"p":1.15814,"t":"H1[6/8] M30[6/8] M15[6/8]","lvl":"6/8","ls":"dashdot"},
{"p":1.15738,"t":"H1[5/8] M30[5/8] M15[5/8]","lvl":"5/8","ls":"dashdot"},
{"p":1.15662,"t":"H4[3/8] H1PIVOT M30PIVOT M15PIVOT","lvl":"PIVOT","ls":"dash"},
{"p":1.15585,"t":"H1[3/8] M30[3/8] M15[3/8]","lvl":"3/8","ls":"dashdot"},
{"p":1.15509,"t":"H1[2/8] M30[2/8] M15[2/8]","lvl":"2/8","ls":"dashdot"},
{"p":1.15433,"t":"H1[1/8] M30[1/8] M15[1/8]","lvl":"1/8","ls":"dashdot"},
{"p":1.15356,"t":"D1[1/8] H4[2/8] H1SUP M30SUP M15SUP","lvl":"SUP","ls":"solid"},
{"p":1.15280,"t":"H1[-1/8] M30[-1/8] M15[-1/8]","lvl":"-1/8","ls":"dashdot"}
],
"paths": [
{"id":"A1","k":0,"i":225.5,"p":1.152865},{"id":"A1","k":1,"i":229.5,"p":1.153497},{"id":"A1","k":2,"i":235.25,"p":1.154227},{"id":"A1","k":3,"i":242.5,"p":1.155043},{"id":"A1","k":4,"i":251.75,"p":1.155859},{"id":"A1","k":5,"i":263,"p":1.156583},{"id":"A1","k":6,"i":274,"p":1.157178},{"id":"A1","k":7,"i":285,"p":1.157675},{"id":"A1","k":8,"i":298,"p":1.158129},{"id":"A1","k":9,"i":311,"p":1.158491},{"id":"A1","k":10,"i":329.5,"p":1.15881},{"id":"A1","k":11,"i":348,"p":1.159061},{"id":"A1","k":12,"i":366.5,"p":1.159264},{"id":"A1","k":13,"i":385,"p":1.159423},{"id":"A1","k":14,"i":403.5,"p":1.159534},{"id":"A1","k":15,"i":422,"p":1.159626},{"id":"A1","k":16,"i":440.5,"p":1.159681},{"id":"A1","k":17,"i":459,"p":1.159718},{"id":"A1","k":18,"i":477.5,"p":1.159742},{"id":"A1","k":19,"i":508.5,"p":1.159748},
{"id":"A2","k":0,"i":234.75,"p":1.152822},{"id":"A2","k":1,"i":274,"p":1.152945},{"id":"A2","k":2,"i":311,"p":1.153092},{"id":"A2","k":3,"i":348,"p":1.153294},{"id":"A2","k":4,"i":375.75,"p":1.153521},{"id":"A2","k":5,"i":403.5,"p":1.153859},{"id":"A2","k":6,"i":422,"p":1.154159},{"id":"A2","k":7,"i":440.5,"p":1.154521},{"id":"A2","k":8,"i":459,"p":1.154975},{"id":"A2","k":9,"i":477.5,"p":1.155589},{"id":"A2","k":10,"i":490.5,"p":1.156221},{"id":"A2","k":11,"i":499.75,"p":1.156902},{"id":"A2","k":12,"i":506,"p":1.157583},{"id":"A2","k":13,"i":509,"p":1.158258},{"id":"A2","k":14,"i":510.75,"p":1.158939},{"id":"A2","k":15,"i":511.5,"p":1.159577},
{"id":"C1","k":0,"i":332.75,"p":1.157528},{"id":"C1","k":1,"i":353.75,"p":1.15746},{"id":"C1","k":2,"i":366.5,"p":1.157314},{"id":"C1","k":3,"i":385,"p":1.157087},{"id":"C1","k":4,"i":399.75,"p":1.156768},{"id":"C1","k":5,"i":410.75,"p":1.156406},{"id":"C1","k":6,"i":417.25,"p":1.155995},{"id":"C1","k":7,"i":420,"p":1.155539},{"id":"C1","k":8,"i":420.75,"p":1.154951},{"id":"C1","k":9,"i":419.25,"p":1.154331},
{"id":"C2","k":0,"i":329,"p":1.157423},{"id":"C2","k":1,"i":327.5,"p":1.156675},{"id":"C2","k":2,"i":328,"p":1.155767},{"id":"C2","k":3,"i":333.25,"p":1.155135},{"id":"C2","k":4,"i":344.25,"p":1.154681},{"id":"C2","k":5,"i":362.75,"p":1.154362},{"id":"C2","k":6,"i":385,"p":1.154202},{"id":"C2","k":7,"i":408.5,"p":1.154135},
{"id":"B1","k":0,"i":229.25,"p":1.152896},{"id":"B1","k":1,"i":334,"p":1.157337},
{"id":"B2","k":0,"i":407.25,"p":1.154209},{"id":"B2","k":1,"i":496.75,"p":1.159098},
{"id":"R1","k":0,"i":472,"p":1.157436},{"id":"R1","k":1,"i":510.5,"p":1.159601},
{"id":"R2","k":0,"i":519.5,"p":1.159595},{"id":"R2","k":1,"i":588.5,"p":1.154365},
{"id":"R3","k":0,"i":395.75,"p":1.154178},{"id":"R3","k":1,"i":624.5,"p":1.154209},
{"id":"R4","k":0,"i":589.25,"p":1.154209},{"id":"R4","k":1,"i":596.4,"p":1.153726}
],
"heads": [
{"id":"R1","i":510.5,"p":1.159601,"dir":23.6},
{"id":"R2","i":588.5,"p":1.154365,"dir":162.1},
{"id":"R4","i":596.4,"p":1.153726,"dir":160},
{"id":"A1","i":509.3,"p":1.159748,"dir":90},
{"id":"A2","i":511.5,"p":1.159626,"dir":0},
{"id":"C1","i":419.1,"p":1.154282,"dir":180},
{"id":"C2","i":410,"p":1.154129,"dir":93}
]
},
"layer": [
{
"data": {"name": "candles"},
"mark": {"type": "rule", "color": "#000000", "strokeWidth": 1.5},
"encoding": {
"x": {"field": "i", "type": "quantitative", "scale": {"domain": [-1.5, 935], "nice": false, "zero": false},
 "axis": {"orient": "bottom", "title": null, "domain": false,
  "values": [0,16,32,48,64,80,96,112,128,144,160,176,192,208,224,240,256,272,288,304,320,336,352,368,384,400,416,432,448,464,480,496,512,528,544,560,576,592,608,624,640,656,672,688,704,720,736,752,768,784,800,816,832,848,864,880,896,912,928],
  "grid": true, "gridColor": "#c4c4c4", "gridDash": [6,4], "gridWidth": 1.3,
  "gridOpacity": {"condition": {"test": "datum.value == 0", "value": 0}, "value": 1},
  "ticks": true, "tickColor": "#000000", "tickSize": 5, "tickWidth": 1.5,
  "tickOpacity": {"condition": {"test": "datum.value % 32 == 0 && datum.value <= 448", "value": 1}, "value": 0},
  "labelExpr": "(datum.value % 32 == 0 && datum.value <= 448) ? ['4 Oct 2021','4 Oct 11:15','4 Oct 19:15','5 Oct 03:15','5 Oct 11:15','5 Oct 19:15','6 Oct 03:15','6 Oct 11:15','6 Oct 19:15','7 Oct 03:15','7 Oct 11:15','7 Oct 19:15','8 Oct 03:15','8 Oct 11:15','8 Oct 19:15'][datum.value / 32] : ''",
  "labelAlign": "left", "labelBaseline": "top", "labelFont": "Liberation Sans", "labelFontSize": 18.5, "labelColor": "#000000", "labelPadding": 3, "labelOverlap": false, "labelFlush": false, "labelBound": false}},
"y": {"field": "l", "type": "quantitative", "scale": {"domain": [1.15262, 1.16462], "nice": false, "zero": false},
 "axis": {"orient": "right", "title": null, "domain": false,
  "values": [1.15285,1.15325,1.15365,1.15405,1.15445,1.15485,1.15525,1.15565,1.15605,1.15645,1.15685,1.15725,1.15765,1.15805,1.15845,1.15885,1.15925,1.15965,1.16005,1.16045,1.16085,1.16125,1.16165,1.16205,1.16245,1.16285,1.16325,1.16365,1.16405,1.16445],
  "format": ".5f", "grid": true, "gridColor": "#c4c4c4", "gridDash": [6,4], "gridWidth": 1.3,
  "tickSize": 4, "tickColor": "#000000", "tickWidth": 1.5,
  "labelFont": "Liberation Sans", "labelFontSize": 19, "labelColor": "#000000", "labelPadding": 6, "labelAlign": "left", "labelBaseline": "middle", "labelOverlap": false, "labelFlush": false, "labelBound": false}},
"y2": {"field": "h"}
}
},
{
"data": {"name": "levels"},
"mark": {"type": "rule", "strokeWidth": 1.6},
"encoding": {
"y": {"field": "p", "type": "quantitative", "scale": {"domain": [1.15262, 1.16462], "nice": false, "zero": false}},
"color": {"field": "lvl", "type": "nominal", "legend": null, "scale": {"domain": ["+2/8","+1/8","RES","7/8","6/8","5/8","PIVOT","3/8","2/8","1/8","SUP","-1/8"], "range": ["#B4187E","#FF00FF","#1E90FF","#FF8C00","#FF4500","#556B2F","#1E90FF","#556B2F","#FF4500","#FF8C00","#1E90FF","#FF00FF"]}},
"strokeDash": {"field": "ls", "type": "nominal", "legend": null, "scale": {"domain": ["dashdot","dash","solid"], "range": [[14,6,3,6],[16,8],[1,0]]}}
}
},
{
"data": {"name": "levels"},
"mark": {"type": "text", "font": "DejaVu Sans", "fontSize": 19, "align": "center", "baseline": "middle", "dy": 12},
"encoding": {
"x": {"datum": 440, "scale": {"domain": [-1.5, 935], "nice": false, "zero": false}},
"y": {"field": "p", "type": "quantitative", "scale": {"domain": [1.15262, 1.16462], "nice": false, "zero": false}},
"text": {"field": "t"},
"color": {"field": "lvl", "type": "nominal", "legend": null, "scale": {"domain": ["+2/8","+1/8","RES","7/8","6/8","5/8","PIVOT","3/8","2/8","1/8","SUP","-1/8"], "range": ["#B4187E","#FF00FF","#1E90FF","#FF8C00","#FF4500","#556B2F","#1E90FF","#556B2F","#FF4500","#FF8C00","#1E90FF","#FF00FF"]}}
}
},
{
"data": {"name": "candles"},
"mark": {"type": "rule", "color": "#000000", "strokeWidth": 1.5},
"encoding": {
"x": {"field": "i", "type": "quantitative", "scale": {"domain": [-1.5, 935], "nice": false, "zero": false}},
"y": {"field": "l", "type": "quantitative", "scale": {"domain": [1.15262, 1.16462], "nice": false, "zero": false}},
"y2": {"field": "h"}
}
},
{
"data": {"name": "candles"},
"mark": {"type": "bar", "size": 2.2, "stroke": "#000000", "strokeWidth": 1.2},
"encoding": {
"x": {"field": "i", "type": "quantitative", "scale": {"domain": [-1.5, 935], "nice": false, "zero": false}},
"y": {"field": "o", "type": "quantitative", "scale": {"domain": [1.15262, 1.16462], "nice": false, "zero": false}},
"y2": {"field": "c"},
"fill": {"condition": {"test": "datum.c >= datum.o", "value": "#ffffff"}, "value": "#000000"}
}
},
{
"data": {"name": "paths"},
"transform": [{"filter": "datum.id == 'B1' || datum.id == 'B2'"}],
"mark": {"type": "line", "color": "#6a78f0", "strokeWidth": 8, "strokeCap": "round", "opacity": 0.95},
"encoding": {
"x": {"field": "i", "type": "quantitative", "scale": {"domain": [-1.5, 935], "nice": false, "zero": false}},
"y": {"field": "p", "type": "quantitative", "scale": {"domain": [1.15262, 1.16462], "nice": false, "zero": false}},
"detail": {"field": "id"},
"order": {"field": "k", "type": "quantitative"}
}
},
{
"data": {"name": "paths"},
"transform": [{"filter": "datum.id == 'A1' || datum.id == 'A2' || datum.id == 'C1' || datum.id == 'C2'"}],
"mark": {"type": "line", "color": "#f0a30a", "strokeWidth": 4.5, "interpolate": "catmull-rom", "strokeCap": "round"},
"encoding": {
"x": {"field": "i", "type": "quantitative", "scale": {"domain": [-1.5, 935], "nice": false, "zero": false}},
"y": {"field": "p", "type": "quantitative", "scale": {"domain": [1.15262, 1.16462], "nice": false, "zero": false}},
"detail": {"field": "id"},
"order": {"field": "k", "type": "quantitative"}
}
},
{
"data": {"name": "paths"},
"transform": [{"filter": "datum.id == 'R1' || datum.id == 'R2'"}],
"mark": {"type": "line", "color": "#ee4343", "strokeWidth": 7},
"encoding": {
"x": {"field": "i", "type": "quantitative", "scale": {"domain": [-1.5, 935], "nice": false, "zero": false}},
"y": {"field": "p", "type": "quantitative", "scale": {"domain": [1.15262, 1.16462], "nice": false, "zero": false}},
"detail": {"field": "id"},
"order": {"field": "k", "type": "quantitative"}
}
},
{
"data": {"name": "paths"},
"transform": [{"filter": "datum.id == 'R3' || datum.id == 'R4'"}],
"mark": {"type": "line", "color": "#ee4343", "strokeWidth": 7, "strokeDash": [18, 8]},
"encoding": {
"x": {"field": "i", "type": "quantitative", "scale": {"domain": [-1.5, 935], "nice": false, "zero": false}},
"y": {"field": "p", "type": "quantitative", "scale": {"domain": [1.15262, 1.16462], "nice": false, "zero": false}},
"detail": {"field": "id"},
"order": {"field": "k", "type": "quantitative"}
}
},
{
"data": {"name": "heads"},
"transform": [{"filter": "datum.id[0] == 'R'"}],
"mark": {"type": "point", "shape": "triangle-up", "filled": true, "size": 560, "color": "#ee4343", "opacity": 1},
"encoding": {
"x": {"field": "i", "type": "quantitative", "scale": {"domain": [-1.5, 935], "nice": false, "zero": false}},
"y": {"field": "p", "type": "quantitative", "scale": {"domain": [1.15262, 1.16462], "nice": false, "zero": false}},
"angle": {"field": "dir", "type": "quantitative", "scale": null}
}
},
{
"data": {"name": "heads"},
"transform": [{"filter": "datum.id[0] != 'R'"}],
"mark": {"type": "point", "shape": "triangle-up", "filled": true, "size": 230, "color": "#f0a30a", "opacity": 1},
"encoding": {
"x": {"field": "i", "type": "quantitative", "scale": {"domain": [-1.5, 935], "nice": false, "zero": false}},
"y": {"field": "p", "type": "quantitative", "scale": {"domain": [1.15262, 1.16462], "nice": false, "zero": false}},
"angle": {"field": "dir", "type": "quantitative", "scale": null}
}
},
{
"data": {"values": [{"t": "▼ EURUSD,M15  1.15722 1.15740 1.15705 1.15737"}]},
"mark": {"type": "text", "font": "Liberation Sans", "fontSize": 18.5, "align": "left", "baseline": "middle", "color": "#000000"},
"encoding": {
"x": {"datum": 0.5, "scale": {"domain": [-1.5, 935], "nice": false, "zero": false}},
"y": {"datum": 1.16452, "scale": {"domain": [1.15262, 1.16462], "nice": false, "zero": false}},
"text": {"field": "t"}
}
},
{
"data": {"name": "levels"},
"mark": {"type": "point", "shape": "M-1,-0.28L1,-0.28L1,0.28L-1,0.28Z", "filled": true, "size": 6400, "opacity": 1},
"encoding": {
"x": {"datum": 945.75, "scale": {"domain": [-1.5, 935], "nice": false, "zero": false}},
"y": {"field": "p", "type": "quantitative", "scale": {"domain": [1.15262, 1.16462], "nice": false, "zero": false}},
"color": {"field": "lvl", "type": "nominal", "legend": null, "scale": {"domain": ["+2/8","+1/8","RES","7/8","6/8","5/8","PIVOT","3/8","2/8","1/8","SUP","-1/8"], "range": ["#B4187E","#FF00FF","#1E90FF","#FF8C00","#FF4500","#556B2F","#1E90FF","#556B2F","#FF4500","#FF8C00","#1E90FF","#FF00FF"]}}
}
},
{
"data": {"name": "levels"},
"mark": {"type": "text", "font": "Liberation Sans", "fontSize": 19, "align": "left", "baseline": "middle", "color": "#ffffff"},
"encoding": {
"x": {"datum": 937.5, "scale": {"domain": [-1.5, 935], "nice": false, "zero": false}},
"y": {"field": "p", "type": "quantitative", "scale": {"domain": [1.15262, 1.16462], "nice": false, "zero": false}},
"text": {"field": "p", "type": "quantitative", "format": ".5f"}
}
}
]
}
